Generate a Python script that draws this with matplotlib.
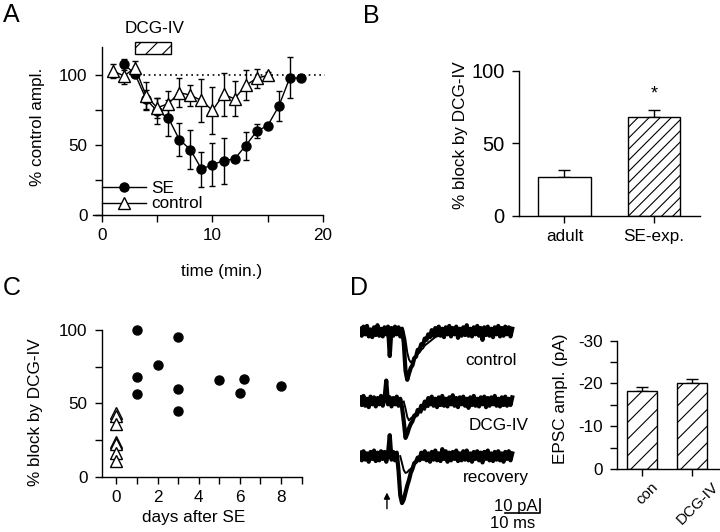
#Four panel figure: time course of DCG-IV block (A), mean block (B),
# block vs. days after SE (C) and example EPSC traces with amplitudes (D).

import numpy as np
import matplotlib
matplotlib.use('Agg')
import matplotlib.pyplot as plt
from matplotlib.patches import Rectangle
from matplotlib.transforms import ScaledTranslation

plt.rcParams['font.family'] = ['Liberation Sans', 'DejaVu Sans']
plt.rcParams['font.size'] = 12.3
plt.rcParams['axes.unicode_minus'] = False
plt.rcParams['hatch.linewidth'] = 0.8
plt.rcParams['axes.linewidth'] = 1.0
for ax_name in ['xtick', 'ytick']:
    plt.rcParams[ax_name + '.major.size'] = 5
    plt.rcParams[ax_name + '.minor.size'] = 5
    plt.rcParams[ax_name + '.major.width'] = 1.0
    plt.rcParams[ax_name + '.minor.width'] = 1.0
plt.rcParams['xtick.major.pad'] = 4.5
plt.rcParams['ytick.major.pad'] = 5.5

# ---- Panel A : time course
se_time = [2, 3, 4, 5, 6, 7, 8, 9, 10, 11, 12, 13, 14, 15, 16, 17, 18]
se_ampl = [107.7, 100.5, 82.5, 74.2, 69.4, 53.8, 46.7, 32.8, 35.9, 38.8, 40.0,
           49.5, 59.8, 63.9, 77.7, 98.1, 97.6]
se_err = [4, 2, 7, 9, 13, 12, 14, 12.5, 15.5, 16.5, 2, 10, 5, 2, 10.5, 14.7, 0]
ctrl_time = [1, 2, 3, 4, 5, 6, 7, 8, 9, 10, 11, 12, 13, 14, 15]
ctrl_ampl = [102.9, 99.3, 105.3, 84.9, 76.6, 79.5, 87.4, 85.6, 81.8, 74.7, 86.1,
             83.0, 92.6, 97.6, 99.8]
ctrl_err = [5, 6, 5, 10, 7, 9, 10.5, 7.5, 15.5, 17, 15.5, 12.5, 10.8, 7, 2]
drug_on = 3.0    # DCG-IV application [min]
drug_off = 6.2

# ---- Panel B : mean block
groups = ['adult', 'SE-exp.']
block_mean = [27.0, 68.0]
block_sem = [5.0, 5.3]

# ---- Panel C : block vs days after SE
ctrl_days = [0, 0, 0, 0, 0, 0, 0]
ctrl_block = [43.3, 41.5, 36.0, 24.0, 22.3, 16.5, 11.0]
se_days = [1, 1, 1, 2, 3, 3, 3, 5, 6, 6.2, 8]
se_block = [100.0, 68.2, 56.2, 76.0, 95.0, 59.9, 44.9, 66.0, 57.0, 66.9, 62.1]

# ---- Panel D : EPSC amplitudes
epsc_labels = ['con', 'DCG-IV']
epsc_mean = [-18.3, -20.1]
epsc_sem = [0.9, 1.0]

# example traces [pA], sampled every 0.5 ms
dt = 0.5
trace_control = [2, -3, 3.5, -2, 4, -3.5, 1.5, -4, 3, -2.5, 4.5, -3, 2, -3.5, 3, -2,
                 3.5, -17.5, 2.5, -3, 3.5, -2, 3, -3.5, 2, -8, -28, -34.5, -30, -26,
                 -24, -19, -18, -13, -13, -9, -9.5, -5, -6, -2, -4, 1, -3, 2.5, -2.5,
                 3.5, -3, 2, -4, 3, -2, 4, -3.5, 2.5, -2, 3.5, -4.5, 2, -3, 3, -2.5,
                 4.5, -3, 2, -3.5, 3, -2, 4, -3, 2.5, -6, 3, -2.5, 3.5, -3, 2, -4, 3,
                 -2, 4, -3.5, 2.5, -3, 3.5, -2, 3, -3.5, 2]
trace_control_2 = [0, -6, -15, -20, -22, -21, -19, -18, -16, -15, -13, -12, -10, -9,
                   -8, -7, -6, -5, -4, -3.5, -3, -2, -1.5, -1, -0.5, 0, 0.5]
trace_dcg = [3, -2.5, 4, -3, 2, -4, 3.5, -2, 3, -3.5, 2.5, -2, 4, -3, 2, 15, -2, 3,
             -3.5, 2.5, -2, 3.5, -3, 2, -4, -14, -26, -23, -19, -16, -14, -10, -10,
             -6, -7, -3, -4.5, 0, -3, 2.5, -2, 3.5, -3, 2, -4, 3, -2.5, 4, -3, 2,
             -3.5, 3, -2, 4.5, -3, 2.5, -4, 3, -2, 3.5, -3, 2, -4.5, 3, -2.5, 4, -3,
             2, -3.5, 3, -2, 3.5, -4, 2.5, -3, 3, -2, 4, -3, 2, -3.5, 3, -2.5, 3.5,
             -3, 2, -2.5, 3]
trace_dcg_2 = [0, -5, -11, -13.5, -12, -11, -12, -9, -10, -7, -8, -5, -6, -3, -4,
               -1.5, -2, 0]
trace_recovery = [2.5, -3, 3.5, -2.5, 2, -4, 3, -2, 4, -3.5, 2.5, -3, 3.5, -2, 3, -4,
                  2, 15, -2.5, 3, -3, 2.5, -10, -28, -33.5, -31, -26, -21, -17, -12,
                  -9, -5, -4, -1, -3, 2.5, -2, 3.5, -3, 2, -4, 3, -2.5, 4, -3, 2,
                  -3.5, 5, -2, 3.5, -4, 2.5, -3, 3, -2, 4, -3.5, 2, -3, 3.5, -2.5, 4,
                  -3, 2, -4, 3, -2, 3.5, -3, 2.5, -4.5, 3, -2, 4, -3, 2, -3.5, 3, -2.5,
                  3.5, -3, 2, -4, 3, -2, 3.5, -3, 2]
trace_recovery_2 = [0, -5, -10, -12, -11.5, -10, -9, -8, -6, -5, -3.5, -2.5, -1.5,
                    -1, 0]

fig = plt.figure(figsize=(7.2, 5.32), dpi=100)

# ================= A =================
axA = fig.add_axes([0.1294, 0.5959, 0.3192, 0.3158])
axA.errorbar(se_time, se_ampl, yerr=se_err, fmt='none', ecolor='k',
             elinewidth=1, capsize=2.5, capthick=1, zorder=2)
axA.errorbar(ctrl_time, ctrl_ampl, yerr=ctrl_err, fmt='none', ecolor='k',
             elinewidth=1, capsize=2.5, capthick=1, zorder=2)
h_se, = axA.plot(se_time, se_ampl, '-o', color='k', lw=1, ms=6.5, zorder=3)
h_ctrl, = axA.plot(ctrl_time, ctrl_ampl, '-^', color='k', mfc='white', mew=1,
                   lw=1, ms=8, zorder=4)
axA.hlines(100, drug_on + 0.3, 20.2, colors='k', linestyles=(0, (1, 2.2)),
           lw=1.2, clip_on=False, zorder=1)
axA.add_patch(Rectangle((drug_on, 115), drug_off - drug_on, 8.5, fill=False,
                        hatch='//', lw=1, clip_on=False))
axA.text((drug_on + drug_off) / 2 + 0.2, 128, 'DCG-IV', ha='center', va='bottom')
axA.set_xlim(-0.8, 20)
axA.set_ylim(0, 120)
axA.spines['left'].set_position(('data', 0))
axA.spines['right'].set_visible(False)
axA.spines['top'].set_visible(False)
axA.set_xticks([0, 10, 20])
axA.set_xticks([5, 15], minor=True)
axA.set_yticks([0, 50, 100])
axA.set_yticks([25, 75], minor=True)
axA.set_xlabel('time (min.)')
axA.set_ylabel('% control ampl.')
axA.xaxis.set_label_coords(0.557, -0.29)
axA.yaxis.set_label_coords(-0.21, 0.524)
axA.legend([h_se, h_ctrl], ['SE', 'control'], loc='lower left',
           bbox_to_anchor=(0, 2.5), bbox_transform=axA.transData,
           frameon=False, borderaxespad=0, borderpad=0, handlelength=2.6,
           handletextpad=0.3, labelspacing=0.05, numpoints=1)

# ================= B =================
axB = fig.add_axes([0.7208, 0.594, 0.2514, 0.2726])
xb = np.arange(len(groups))
axB.bar(xb, block_mean, width=0.59, color='white', edgecolor='k', lw=1,
        hatch=['', '///'], zorder=2)
axB.errorbar(xb, block_mean, yerr=[[0, 0], block_sem], fmt='none', ecolor='k',
             elinewidth=1, capsize=4, capthick=1, zorder=1)
axB.text(xb[1], block_mean[1] + block_sem[1] + 5, '*', ha='center', va='bottom',
         fontsize=13)
axB.set_xlim(-0.508, 1.514)
axB.set_ylim(0, 100)
axB.spines['right'].set_visible(False)
axB.spines['top'].set_visible(False)
axB.set_xticks(xb)
axB.set_xticklabels(groups)
axB.set_yticks([0, 50, 100])
axB.tick_params(axis='y', labelsize=14.5)
axB.set_ylabel('% block by DCG-IV')
axB.yaxis.set_label_coords(-0.282, 0.559)

# ================= C =================
axC = fig.add_axes([0.1417, 0.1034, 0.2778, 0.2763])
axC.plot(se_days, se_block, 'o', color='k', ms=6.5, clip_on=False)
axC.plot(ctrl_days, ctrl_block, '^', color='k', mfc='white', mew=1, ms=8)
axC.set_xlim(-0.695, 9.02)
axC.set_ylim(0, 100)
axC.spines['right'].set_visible(False)
axC.spines['top'].set_visible(False)
axC.set_xticks([0, 2, 4, 6, 8])
axC.set_xticks([1, 3, 5, 7, 9], minor=True)
axC.set_yticks([0, 50, 100])
axC.set_yticks([25, 75], minor=True)
axC.set_xlabel('days after SE')
axC.set_ylabel('% block by DCG-IV')
axC.xaxis.set_label_coords(0.456, -0.224)
axC.yaxis.set_label_coords(-0.295, 0.44)

# ================= D traces =================
axT = fig.add_axes([0.5, 0.02256, 0.2528, 0.3947])
axT.axis('off')
axT.set_xlim(0, 52)
axT.set_ylim(-134.6, 15.36)
traces = [(trace_control, trace_control_2, 0.0, 12.5),
          (trace_dcg, trace_dcg_2, -50.0, 12.5),
          (trace_recovery, trace_recovery_2, -89.0, 11.5)]
for main, second, offset, t2 in traces:
    t_main = np.arange(len(main)) * dt
    axT.plot(t_main, np.array(main) + offset, color='k', lw=3.0)
    t_sec = t2 + np.arange(len(second)) * dt
    axT.plot(t_sec, np.array(second) + offset, color='k', lw=1.4)
axT.text(44.9, -23.9, 'control', ha='right', va='baseline')
axT.text(48.0, -70.4, 'DCG-IV', ha='right', va='baseline')
axT.text(48.3, -107.5, 'recovery', ha='right', va='baseline')
# stimulus arrow
axT.annotate('', xy=(7.7, -113), xytext=(7.7, -128.5),
             arrowprops=dict(arrowstyle='-|>', color='k', lw=1, mutation_scale=9),
             annotation_clip=False)
# scale bars: 10 ms, 10 pA
axT.plot([41.4, 51.4, 51.4], [-129.4, -129.4, -119.4], color='k', lw=1.2,
         clip_on=False)
axT.text(44.6, -128.4, '10 pA', ha='center', va='baseline', fontsize=12)
axT.text(43.6, -131.5, '10 ms', ha='center', va='top', fontsize=12)

# ================= D bars =================
axD = fig.add_axes([0.8569, 0.1184, 0.1431, 0.2412])
xd = np.arange(len(epsc_labels))
axD.bar(xd, epsc_mean, width=0.6, color='white', edgecolor='k', lw=1,
        hatch='//', zorder=2)
axD.errorbar(xd, epsc_mean, yerr=[epsc_sem, [0, 0]], fmt='none', ecolor='k',
             elinewidth=1, capsize=4, capthick=1, zorder=1)
axD.set_xlim(-0.504, 1.55)
axD.set_ylim(0, -30)
axD.spines['right'].set_visible(False)
axD.spines['top'].set_visible(False)
axD.set_xticks(xd)
axD.set_xticklabels(epsc_labels, rotation=45, ha='center', fontsize=11)
axD.tick_params(axis='x', pad=2.5)
for lab in axD.get_xticklabels():
    lab.set_transform(lab.get_transform() +
                      ScaledTranslation(5 / 100, 0, fig.dpi_scale_trans))
axD.set_yticks([0, -10, -20, -30])
axD.set_yticks([-5, -15, -25], minor=True)
axD.set_ylabel('EPSC ampl. (pA)')
axD.yaxis.set_label_coords(-0.476, 0.546)

# panel letters
fig.text(0.004, 0.9586, 'A', fontsize=18)
fig.text(0.504, 0.957, 'B', fontsize=18)
fig.text(0.004, 0.4455, 'C', fontsize=18)
fig.text(0.486, 0.4455, 'D', fontsize=18)

fig.savefig('out.png', dpi=100)
